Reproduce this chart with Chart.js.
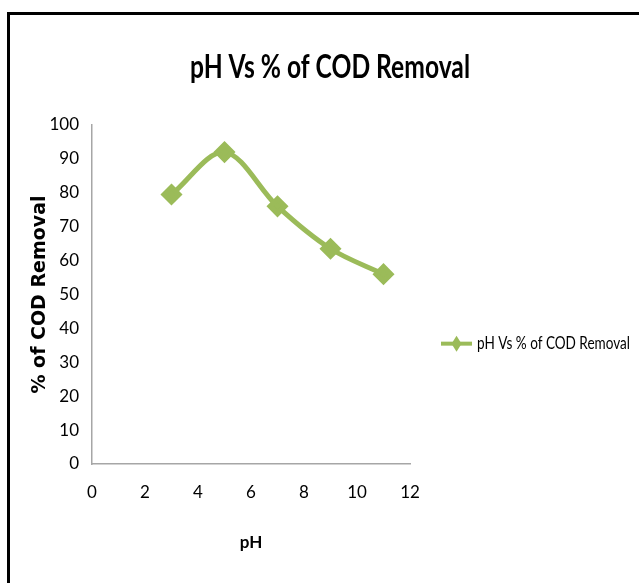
<!DOCTYPE html>
<html>
<head>
<meta charset="utf-8">
<script src="https://cdn.jsdelivr.net/npm/chart.js@4.4.0/dist/chart.umd.min.js"></script>
<style>
  html, body { margin: 0; padding: 0; background: #fff; }
  #frame {
    position: absolute; left: 7px; top: 12px; width: 632px; height: 571px;
    border-left: 3px solid #000; border-top: 3px solid #000;
  }
  #wrap { position: absolute; left: 16px; top: 15px; width: 623px; height: 568px; }
</style>
</head>
<body>
<div id="frame"></div>
<div id="wrap"><canvas id="codChart"></canvas></div>
<script>
// data
const phValues = [3, 5, 7, 9, 11];
const codRemoval = [79.5, 92, 76, 63.5, 56];
const xTickValues = [0, 2, 4, 6, 8, 10, 12];
const yTickValues = [0, 10, 20, 30, 40, 50, 60, 70, 80, 90, 100];
const chartTitle = "pH Vs % of COD Removal";
const seriesName = "pH Vs % of COD Removal";

const green = "#9bbb59";
const sans = "Lato, 'Open Sans', sans-serif";

// the original uses a narrow font, so squeeze text to the width it has there
function narrowText(ctx, text, x, y, width) {
  const w = ctx.measureText(text).width;
  const k = Math.min(1, width / w);
  ctx.save();
  ctx.translate(x, y);
  ctx.scale(k, 1);
  ctx.fillText(text, 0, 0);
  ctx.restore();
}

// title and legend drawn by hand
const extras = {
  id: "extras",
  afterDraw(chart) {
    const ctx = chart.ctx;
    const area = chart.chartArea;

    // title
    ctx.save();
    ctx.fillStyle = "#000";
    ctx.font = "bold 32px " + sans;
    ctx.textBaseline = "middle";
    const tw = Math.min(ctx.measureText(chartTitle).width, 280);
    narrowText(ctx, chartTitle, 314 - tw / 2, 53, 280);
    ctx.restore();

    // legend: short line, diamond, series name
    const x0 = area.right + 31, x1 = area.right + 62;
    const y = area.top + (area.bottom - area.top) * 0.645;
    const mx = (x0 + x1) / 2;
    ctx.save();
    ctx.strokeStyle = green;
    ctx.lineWidth = 4;
    ctx.beginPath(); ctx.moveTo(x0, y); ctx.lineTo(x1, y); ctx.stroke();
    ctx.fillStyle = green;
    ctx.beginPath();
    ctx.moveTo(mx, y - 8); ctx.lineTo(mx + 5, y); ctx.lineTo(mx, y + 8); ctx.lineTo(mx - 5, y);
    ctx.closePath(); ctx.fill();
    ctx.fillStyle = "#000";
    ctx.font = "18px " + sans;
    ctx.textBaseline = "middle";
    narrowText(ctx, seriesName, x1 + 5, y, 153);
    ctx.restore();
  }
};

new Chart(document.getElementById("codChart"), {
  type: "line",
  data: {
    datasets: [{
      label: seriesName,
      data: phValues.map((x, i) => ({ x: x, y: codRemoval[i] })),
      borderColor: green,
      backgroundColor: green,
      borderWidth: 5,
      tension: 0.33,
      pointStyle: "rectRot",
      pointRadius: 7.5,
      pointHoverRadius: 7.5,
      fill: false
    }]
  },
  options: {
    responsive: true,
    maintainAspectRatio: false,
    animation: false,
    layout: { padding: { top: 110, right: 229, bottom: 0, left: 0 } },
    plugins: {
      title: { display: false },
      legend: { display: false },
      tooltip: { enabled: false }
    },
    scales: {
      x: {
        type: "linear",
        min: 0, max: 12,
        afterBuildTicks: s => { s.ticks = xTickValues.map(v => ({ value: v })); },
        afterFit: s => { s.height = 119; },
        grid: { display: false, drawTicks: false },
        border: { color: "#a6a6a6", width: 1.5 },
        ticks: { color: "#000", padding: 18, font: { family: sans, size: 17 } },
        title: {
          display: true, text: "pH", color: "#000",
          font: { family: sans, size: 17, weight: "bold" },
          padding: { top: 0, bottom: 30 }
        }
      },
      y: {
        min: 0, max: 100,
        afterBuildTicks: s => { s.ticks = yTickValues.map(v => ({ value: v })); },
        afterFit: s => { s.width = 76; },
        grid: { display: false, drawTicks: false },
        border: { color: "#a6a6a6", width: 1.5 },
        ticks: { color: "#000", padding: 13, font: { family: sans, size: 17 } },
        title: {
          display: true, text: "% of COD Removal", color: "#000",
          font: { family: "'DejaVu Sans', sans-serif", size: 19, weight: "bold" },
          padding: { top: 13, bottom: 0 }
        }
      }
    }
  },
  plugins: [extras]
});
</script>
</body>
</html>
